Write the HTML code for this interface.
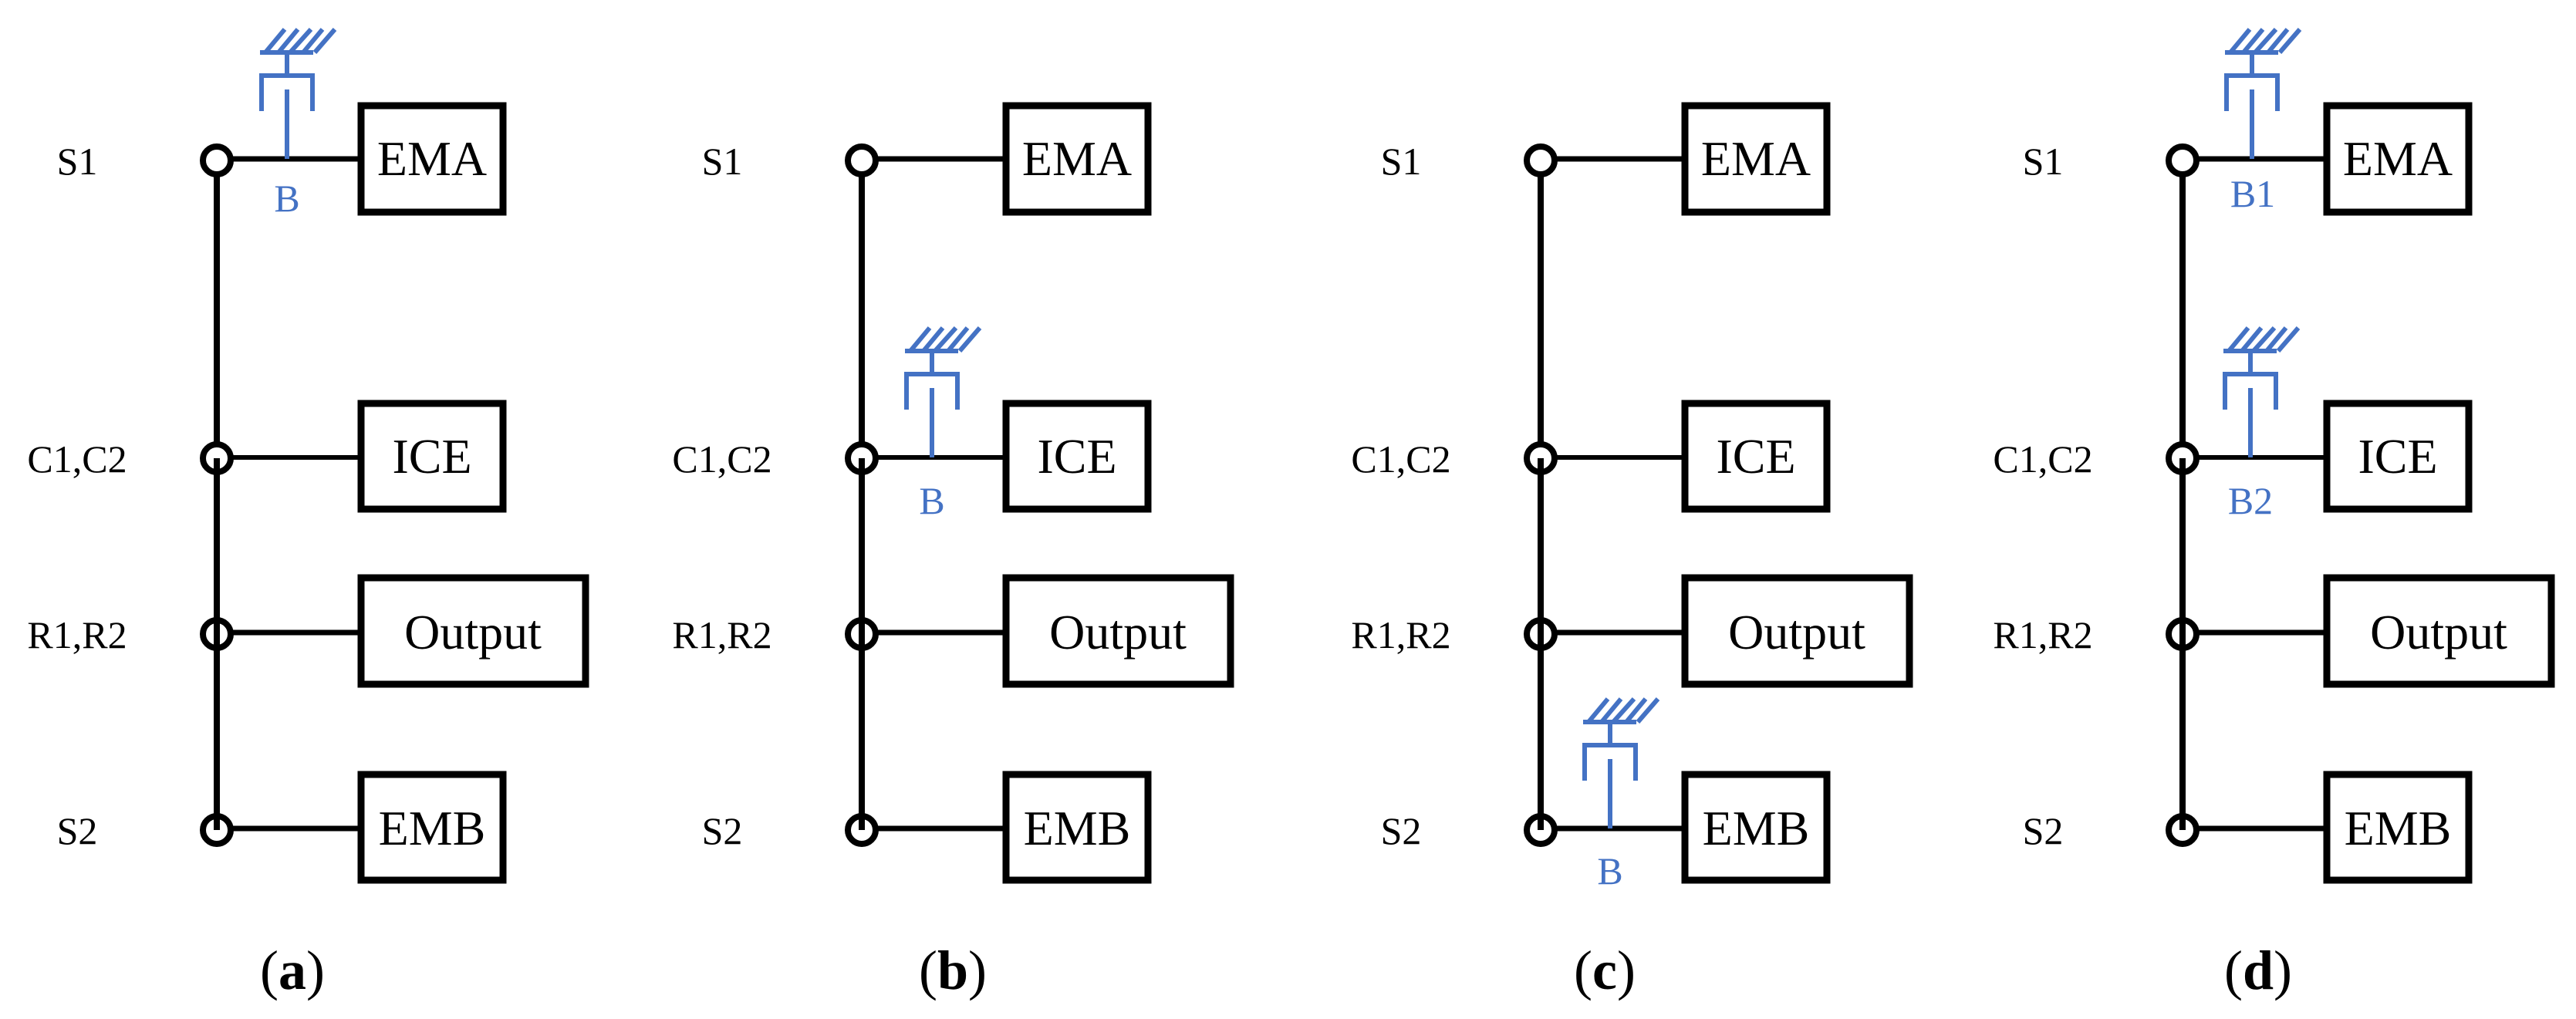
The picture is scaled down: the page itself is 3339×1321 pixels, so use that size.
<!DOCTYPE html>
<html><head><meta charset="utf-8"><style>html,body{margin:0;padding:0;background:#fff}svg{display:block}</style></head>
<body>
<svg width="3339" height="1321" viewBox="0 0 3339 1321" xmlns="http://www.w3.org/2000/svg" font-family="Liberation Serif, serif">
<defs>
<g id="base">
  <line x1="281" y1="208" x2="281" y2="1076" stroke="#000" stroke-width="8"/>
  <line x1="281" y1="206" x2="466" y2="206" stroke="#000" stroke-width="7"/>
  <line x1="281" y1="593" x2="466" y2="593" stroke="#000" stroke-width="6"/>
  <line x1="281" y1="820" x2="466" y2="820" stroke="#000" stroke-width="7"/>
  <line x1="281" y1="1074" x2="466" y2="1074" stroke="#000" stroke-width="7"/>
  <g fill="#fff" stroke="#000" stroke-width="8">
    <circle cx="281" cy="208" r="18"/>
    <circle cx="281" cy="594" r="18"/>
    <circle cx="281" cy="822" r="18"/>
    <circle cx="281" cy="1076" r="18"/>
  </g>
  <line x1="281" y1="594" x2="281" y2="1076" stroke="#000" stroke-width="8"/>
  <g fill="none" stroke="#000" stroke-width="9">
    <rect x="468" y="137" width="184" height="138"/>
    <rect x="468" y="523" width="184" height="137"/>
    <rect x="468" y="749" width="291" height="138"/>
    <rect x="468" y="1004" width="184" height="137"/>
  </g>
  <g font-size="50" text-anchor="middle" fill="#000">
    <text x="100" y="226">S1</text>
    <text x="100" y="612">C1,C2</text>
    <text x="100" y="840">R1,R2</text>
    <text x="100" y="1094">S2</text>
  </g>
  <g font-size="64" text-anchor="middle" fill="#000">
    <text x="560" y="227">EMA</text>
    <text x="560" y="613">ICE</text>
    <text x="613" y="841">Output</text>
    <text x="560" y="1095">EMB</text>
  </g>
</g>
<g id="brake" stroke="#4472C4" fill="none" stroke-width="6">
  <line x1="-35" y1="-138" x2="34" y2="-138"/>
  <line x1="-28" y1="-138" x2="-3" y2="-168"/>
  <line x1="-11" y1="-138" x2="14" y2="-168"/>
  <line x1="4" y1="-138" x2="31" y2="-168"/>
  <line x1="21" y1="-138" x2="46" y2="-168"/>
  <line x1="36" y1="-138" x2="62" y2="-168"/>
  <line x1="0" y1="-138" x2="0" y2="-108"/>
  <polyline points="-33,-62 -33,-108 33,-108 33,-62"/>
  <line x1="0" y1="-90" x2="0" y2="0"/>
</g>
</defs>

<use href="#base" x="0"/>
<use href="#base" x="836"/>
<use href="#base" x="1716"/>
<use href="#base" x="2548"/>

<use href="#brake" x="372" y="206"/>
<use href="#brake" x="1208" y="593"/>
<use href="#brake" x="2087" y="1074"/>
<use href="#brake" x="2919" y="206"/>
<use href="#brake" x="2917" y="593"/>

<g font-size="50" text-anchor="middle" fill="#4472C4">
  <text x="372" y="274">B</text>
  <text x="1208" y="666">B</text>
  <text x="2087" y="1146">B</text>
  <text x="2920" y="268">B1</text>
  <text x="2917" y="666">B2</text>
</g>

<g font-size="72" text-anchor="middle" fill="#000">
  <text x="379" y="1282">(<tspan font-weight="bold">a</tspan>)</text>
  <text x="1235" y="1282">(<tspan font-weight="bold">b</tspan>)</text>
  <text x="2080" y="1282">(<tspan font-weight="bold">c</tspan>)</text>
  <text x="2927" y="1282">(<tspan font-weight="bold">d</tspan>)</text>
</g>
</svg>
</body></html>
